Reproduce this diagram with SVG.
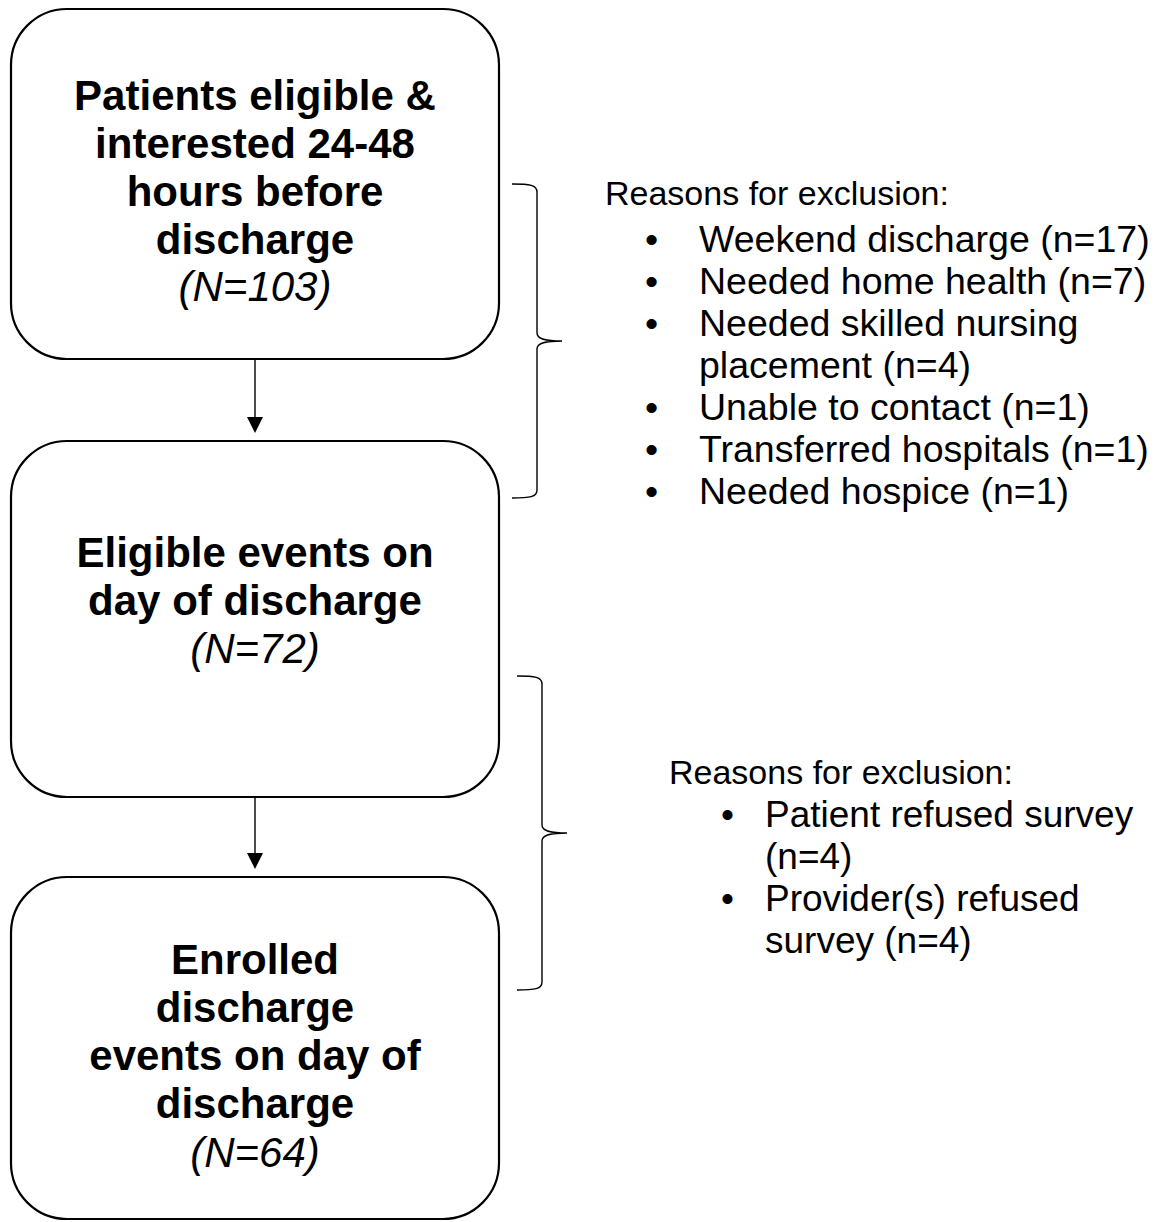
<svg xmlns="http://www.w3.org/2000/svg" width="1156" height="1222" viewBox="0 0 1156 1222">
<style>
.box{fill:#fff;stroke:#000;stroke-width:2.2}
.b{font-family:"Liberation Sans",Arial,sans-serif;font-weight:bold;font-size:42px;text-anchor:middle;fill:#000}
.n{font-family:"Liberation Sans",Arial,sans-serif;font-style:italic;font-size:42px;text-anchor:middle;fill:#000}
.r{font-family:"Liberation Sans",Arial,sans-serif;font-size:34px;fill:#000}
.i1{font-family:"Liberation Sans",Arial,sans-serif;font-size:37.5px;fill:#000}
.i2{font-family:"Liberation Sans",Arial,sans-serif;font-size:37px;fill:#000}
.ln{fill:none;stroke:#000;stroke-width:1.4}
</style>
<g id="connectors">
<line class="ln" x1="255" y1="360" x2="255" y2="418"/>
<path d="M247,417 L263,417 L255,433 z" fill="#000"/>
<line class="ln" x1="255" y1="797" x2="255" y2="854"/>
<path d="M247,853 L263,853 L255,869 z" fill="#000"/>
<path class="ln" d="M512,184 C530,184 537,185 537,192 L537,333 C537,339 545,341 562,341 C545,341 537,343 537,349 L537,490 C537,497 530,498 512,498"/>
<path class="ln" d="M517,676 C535,676 542,677 542,684 L542,825 C542,831 550,833 567,833 C550,833 542,835 542,841 L542,982 C542,989 535,990 517,990"/>
</g>
<g id="box1">
<rect class="box" x="11" y="9" width="488" height="350" rx="56" ry="56"/>
<text class="b" x="255" y="110">Patients eligible &amp;</text>
<text class="b" x="255" y="158">interested 24-48</text>
<text class="b" x="255" y="206">hours before</text>
<text class="b" x="255" y="254">discharge</text>
<text class="n" x="255" y="301">(N=103)</text>
</g>
<g id="box2">
<rect class="box" x="11" y="441" width="488" height="356" rx="56" ry="56"/>
<text class="b" x="255" y="567">Eligible events on</text>
<text class="b" x="255" y="615">day of discharge</text>
<text class="n" x="255" y="663">(N=72)</text>
</g>
<g id="box3">
<rect class="box" x="11" y="877" width="488" height="342" rx="56" ry="56"/>
<text class="b" x="255" y="974">Enrolled</text>
<text class="b" x="255" y="1022">discharge</text>
<text class="b" x="255" y="1070">events on day of</text>
<text class="b" x="255" y="1118">discharge</text>
<text class="n" x="255" y="1167">(N=64)</text>
</g>
<g id="exclusion1">
<text class="r" x="605" y="205">Reasons for exclusion:</text>
<text class="i1" x="645" y="252">•</text><text class="i1" x="699" y="252">Weekend discharge (n=17)</text>
<text class="i1" x="645" y="294">•</text><text class="i1" x="699" y="294">Needed home health (n=7)</text>
<text class="i1" x="645" y="336">•</text><text class="i1" x="699" y="336">Needed skilled nursing</text>
<text class="i1" x="699" y="378">placement (n=4)</text>
<text class="i1" x="645" y="420">•</text><text class="i1" x="699" y="420">Unable to contact (n=1)</text>
<text class="i1" x="645" y="462">•</text><text class="i1" x="699" y="462">Transferred hospitals (n=1)</text>
<text class="i1" x="645" y="504">•</text><text class="i1" x="699" y="504">Needed hospice (n=1)</text>
</g>
<g id="exclusion2">
<text class="r" x="669" y="784">Reasons for exclusion:</text>
<text class="i2" x="721" y="827">•</text><text class="i2" x="765" y="827">Patient refused survey</text>
<text class="i2" x="765" y="869">(n=4)</text>
<text class="i2" x="721" y="911">•</text><text class="i2" x="765" y="911">Provider(s) refused</text>
<text class="i2" x="765" y="953">survey (n=4)</text>
</g>
</svg>
